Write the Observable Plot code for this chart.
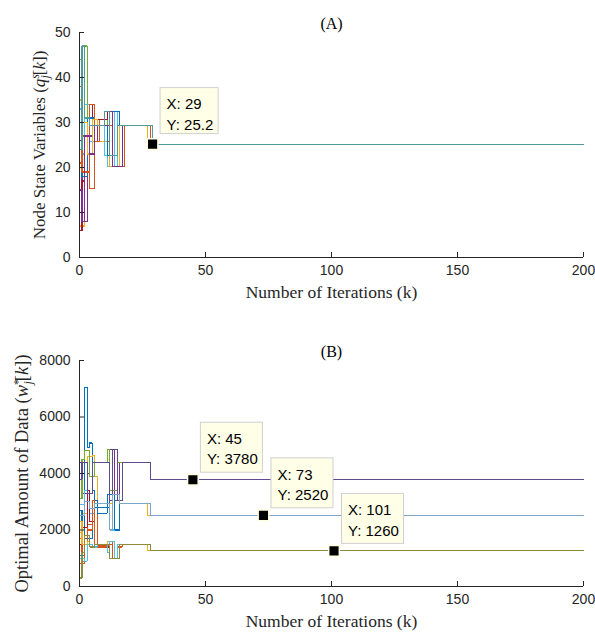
<!DOCTYPE html>
<html><head><meta charset="utf-8">
<script src="https://cdn.jsdelivr.net/npm/d3@7"></script>
<script src="https://cdn.jsdelivr.net/npm/@observablehq/plot@0.6"></script>
<style>
body{margin:0;background:#fff;}
#chart{width:595px;}
#chart svg{display:block;}
</style>
</head><body><div id="chart"></div>
<script>
// ---- data ----
const kMax = 200;
const iterTicks = [0, 50, 100, 150, 200];
const qTicks = [0, 10, 20, 30, 40, 50];
const wTicks = [0, 2000, 4000, 6000, 8000];

// Panel A: node state variables, change points [k, value]
const q1 = [[0,10],[1,47],[2,34],[5,29.4],[10,32.4],[13,22.7],[15,29.4],[29,25.2]];
const q2 = [[0,21],[1,27],[4,15.3],[6,30.7],[8,25.8],[12,32.4],[14,20.2],[18,29.4],[28,25.2]];
const q3 = [[0,7],[2,47],[3,27],[5,30.7],[7,25.8],[11,20.2],[16,29.4],[27,25.2]];
const q4 = [[0,26],[1,8],[3,27],[5,25.8],[7,29.4],[12,32.4],[14,20.2],[17,29.4],[29,25.2]];
const q5 = [[0,44],[1,47],[3,23],[4,29.4],[11,32.4],[13,20.2],[17,29.4],[28,25.2]];
const q6 = [[0,33],[1,23],[2,34],[4,25.8],[6,29.4],[10,22.7],[11,20.2],[14,32.4],[15,20.2],[16,29.4],[29,25.2]];
const q7 = [[0,6],[1,17],[2,27],[4,34],[5,30.7],[11,32.4],[13,20.2],[18,29.4],[28,25.2]];
const q8 = [[0,40],[1,18],[3,31],[6,29.4],[11,22.7],[13,32.4],[16,29.4],[29,25.2]];
const q9 = [[0,38],[1,19],[4,34],[6,25.8],[8,29.4],[13,20.2],[18,29.4],[28,25.2]];
const q10 = [[0,35],[1,30],[3,23],[5,30.7],[7,29.4],[12,20.2],[16,29.4],[27,25.2]];
const q11 = [[0,15],[1,8],[2,27],[4,23],[6,29.4],[12,32.4],[13,20.2],[17,29.4],[29,25.2]];
const q12 = [[0,24],[1,47],[2,31],[4,29.4],[10,32.4],[12,22.7],[15,29.4],[29,25.2]];
const qNodes = [q1,q2,q3,q4,q5,q6,q7,q8,q9,q10,q11,q12];
const qColors = ["#0072BD","#D95319","#EDB120","#7E2F8E","#77AC30","#4DBEEE","#A2142F","#0072BD","#D95319","#EDB120","#7E2F8E","#4F9B9A"];

// Panel B: optimal amount of data, change points [k, value]
const w1 = [[0,1100],[2,7050],[3,4930],[4,5080],[5,3400],[6,2800],[12,4850],[14,3050],[17,4400],[28,3780]];
const w2 = [[0,800],[2,1700],[3,2200],[5,3050],[7,1450],[12,1600],[13,1000],[15,1400],[17,1480],[27,1260]];
const w3 = [[0,1900],[1,2600],[3,4600],[5,4650],[6,3900],[7,2950],[13,2000],[16,2930],[27,2520]];
const w4 = [[0,4400],[1,3300],[3,4000],[4,3900],[6,4400],[12,4850],[14,3050],[16,4400],[28,3780]];
const w5 = [[0,3100],[1,4500],[2,4800],[4,3900],[6,4400],[11,4850],[12,3400],[15,4400],[28,3780]];
const w6 = [[0,2900],[2,3400],[4,2600],[6,2930],[11,3250],[13,2000],[16,2930],[28,2520]];
const w7 = [[0,1500],[1,2100],[3,3400],[4,2300],[6,1400],[12,1600],[14,1000],[16,1480],[28,1260]];
const w8 = [[0,2700],[1,1200],[2,1700],[5,3050],[7,2600],[11,3250],[14,2000],[16,2930],[28,2520]];
const w9 = [[0,1700],[1,900],[3,2000],[5,3050],[6,1400],[11,1500],[13,1000],[16,1480],[28,1260]];
const w10 = [[0,2300],[1,1500],[3,1600],[4,1400],[7,1480],[11,1600],[12,1000],[15,1480],[27,1260]];
const w11 = [[0,1000],[2,900],[3,1500],[5,1400],[7,1480],[11,1200],[12,1600],[14,1000],[15,1480],[28,1260]];
const w12 = [[0,3800],[1,4400],[3,3300],[5,4400],[12,3050],[13,4850],[15,3050],[17,4400],[28,3780]];
const w13 = [[0,2500],[2,3000],[4,2750],[6,2930],[12,2000],[13,3250],[16,2930],[28,2520]];
const w14 = [[0,300],[1,1200],[2,1800],[4,1400],[6,1480],[12,1000],[16,1480],[28,1260]];
const wNodes = [w1,w2,w3,w4,w5,w6,w7,w8,w9,w10,w11,w12,w13,w14];
const wColors = ["#0072BD","#D95319","#EDB120","#7E2F8E","#77AC30","#4DBEEE","#A2142F","#0072BD","#D95319","#EDB120","#4DBEEE","#5E4A8E","#7BA6C6","#8C8C3C"];

// data tips
const tipA = [{k: 29, v: 25.2}];
const tipB = [{k: 45, v: 3780}, {k: 73, v: 2520}, {k: 101, v: 1260}];

// ---- build ----
function rowsOf(nodes, colors) {
  const rows = [];
  nodes.forEach((pts, i) => {
    pts.forEach(([k, v]) => rows.push({node: i, k, v, color: colors[i]}));
    rows.push({node: i, k: kMax, v: pts[pts.length - 1][1], color: colors[i]});
  });
  return rows;
}

const axisColor = "#262626";
const sans = "'Liberation Sans', Arial, Helvetica, sans-serif";
const serif = "'Liberation Serif', 'Times New Roman', serif";

function panel({rows, yTicks, yMax, tip, tipW, tipH, tipGap, title, ylabelKey, ylabelDx, ylabelSize, height, marginTop, marginBottom}) {
  return Plot.plot({
    width: 595, height,
    marginLeft: 79, marginRight: 12, marginTop, marginBottom,
    style: {fontFamily: sans, fontSize: "14px", color: axisColor, background: "white", overflow: "visible"},
    x: {domain: [0, kMax]},
    y: {domain: [0, yMax]},
    color: {type: "identity"},
    marks: [
      Plot.line(rows, {x: "k", y: "v", z: "node", stroke: "color", strokeWidth: 1.1, curve: "step-after", shapeRendering: "crispEdges"}),
      Plot.ruleY([0], {stroke: axisColor}),
      Plot.ruleX([0], {stroke: axisColor}),
      Plot.ruleX(iterTicks, {x: d => d, y1: 0, y2: 0, insetTop: -5, stroke: axisColor}),
      Plot.ruleY(yTicks, {y: d => d, x1: 0, x2: 0, insetRight: -5, stroke: axisColor}),
      Plot.axisX({ticks: iterTicks, tickSize: 0, tickPadding: 8, tickFormat: d => String(d), label: null, fontSize: 14}),
      Plot.axisY({ticks: yTicks, tickSize: 0, tickPadding: 9, tickFormat: d => String(d), label: null, fontSize: 14}),
      Plot.text(["Number of Iterations (k)"], {frameAnchor: "bottom", text: d => d, dy: 40, fontFamily: serif, fontSize: 17.5, fill: axisColor}),
      Plot.text([title], {frameAnchor: "top", text: d => d, dy: -15, fontFamily: serif, fontSize: 16, fill: "black"}),
      Plot.text([ylabelKey], {frameAnchor: "left", text: d => d, dx: ylabelDx, rotate: -90, textAnchor: "middle", fontFamily: serif, fontSize: ylabelSize, fill: axisColor}),
      Plot.dot(tip, {x: "k", y: "v", symbol: "square", r: 6, fill: "black", stroke: "#ffffe1", strokeWidth: 1.5}),
      Plot.rect(tip, {x1: "k", x2: "k", y1: "v", y2: "v", insetLeft: 8, insetRight: -(8 + tipW), insetBottom: tipGap, insetTop: -(tipGap + tipH), fill: "#ffffe8", stroke: "#d0d0d0", strokeWidth: 1}),
      Plot.text(tip, {x: "k", y: "v", text: d => `X: ${d.k}\nY: ${d.v}`, dx: 14, dy: -(tipGap + tipH) + 7, textAnchor: "start", lineAnchor: "top", lineHeight: 1.35, fontSize: 15, fontFamily: sans, fill: "black"})
    ]
  });
}

function typeset(svg, key, pieces) {
  const text = Array.from(svg.querySelectorAll("text")).find(t => t.textContent === key);
  if (!text) return;
  while (text.firstChild) text.removeChild(text.firstChild);
  for (const p of pieces) {
    const ts = document.createElementNS("http://www.w3.org/2000/svg", "tspan");
    ts.textContent = p.t;
    if (p.it) ts.setAttribute("font-style", "italic");
    if (p.size) ts.setAttribute("font-size", p.size);
    if (p.dx) ts.setAttribute("dx", p.dx);
    if (p.dy) ts.setAttribute("dy", p.dy);
    text.appendChild(ts);
  }
}

const svgA = panel({rows: rowsOf(qNodes, qColors), yTicks: qTicks, yMax: 50, tip: tipA, tipW: 58, tipH: 46, tipGap: 10,
  title: "(A)", ylabelKey: "ylabelA", ylabelDx: -40, ylabelSize: 17, height: 318, marginTop: 32, marginBottom: 61});
const svgB = panel({rows: rowsOf(wNodes, wColors), yTicks: wTicks, yMax: 8000, tip: tipB, tipW: 62, tipH: 50, tipGap: 7,
  title: "(B)", ylabelKey: "ylabelB", ylabelDx: -57, ylabelSize: 18.5, height: 317, marginTop: 42, marginBottom: 49});

typeset(svgA, "ylabelA", [
  {t: "Node State Variables ("}, {t: "q", it: true},
  {t: "s", it: true, size: 12, dy: -6}, {t: "j", it: true, size: 12, dx: -4.5, dy: 10},
  {t: "[", dy: -4}, {t: "k", it: true}, {t: "])"}
]);
typeset(svgB, "ylabelB", [
  {t: "Optimal Amount of Data ("}, {t: "w", it: true},
  {t: "*", size: 12, dy: -6}, {t: "j", it: true, size: 12, dx: -5.5, dy: 10},
  {t: "[", dy: -4}, {t: "k", it: true}, {t: "])"}
]);

document.getElementById("chart").append(svgA, svgB);
</script>
</body></html>
